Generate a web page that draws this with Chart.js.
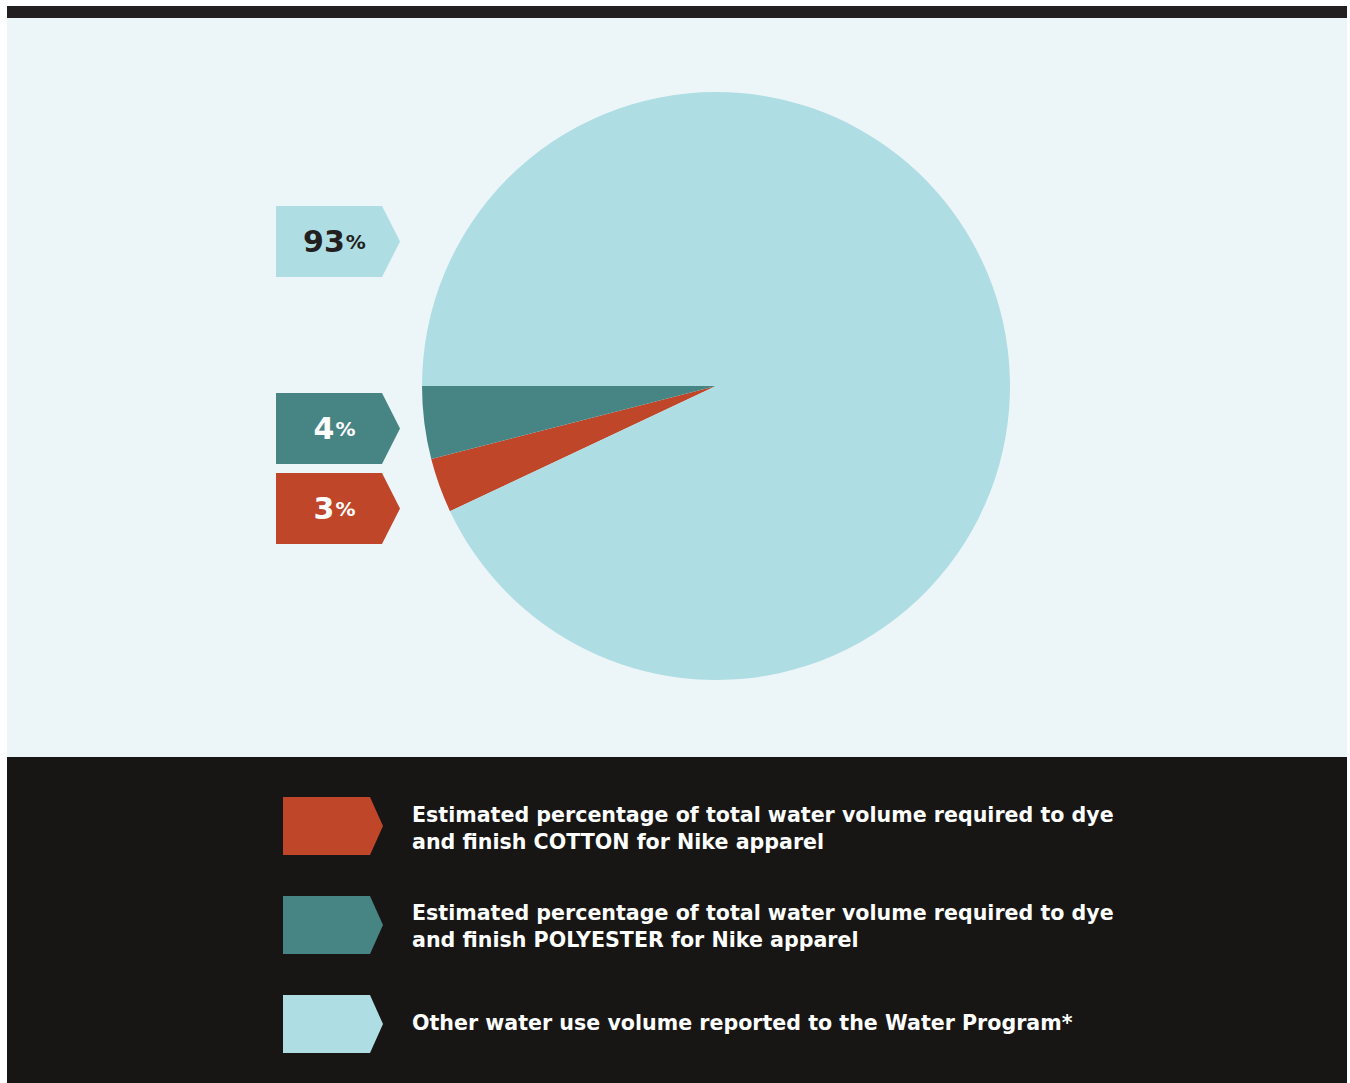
<!DOCTYPE html>
<html>
<head>
<meta charset="utf-8">
<script src="https://cdn.jsdelivr.net/npm/chart.js@4"></script>
<style>
  html, body { margin:0; padding:0; background:#ffffff; width:1350px; height:1083px; overflow:hidden; }
  body { position:relative; font-family: "DejaVu Sans", sans-serif; }
  #topbar { position:absolute; left:7px; top:6px; width:1340px; height:12px; background:#231F20; }
  #panel { position:absolute; left:7px; top:18px; width:1340px; height:739px; background:#ECF5F8; }
  #dark { position:absolute; left:7px; top:757px; width:1340px; height:326px; background:#171614; }
  #chartWrap { position:absolute; left:422px; top:92px; width:588px; height:588px; }
  .tag { position:absolute; left:276px; width:124px; height:71px;
         clip-path: polygon(0 0, 106px 0, 124px 50%, 106px 100%, 0 100%);
         display:flex; align-items:center; justify-content:center; padding-right:7px; box-sizing:border-box;
         font-weight:700; font-size:30px; }
  .tag .pc { font-size:20px; margin-left:1px; }
  .leg { position:absolute; left:283px; width:100px; height:58px;
         clip-path: polygon(0 0, 87px 0, 100px 50%, 87px 100%, 0 100%); }
  .legtxt { position:absolute; left:412px; color:#ffffff; font-weight:700; font-size:20.6px; line-height:27px; white-space:nowrap; }
</style>
</head>
<body>
<div id="topbar"></div>
<div id="panel"></div>
<div id="dark"></div>
<div id="chartWrap"><canvas id="c" width="588" height="588"></canvas></div>
<div id="overlay"></div>
<script>
// ---- data ----
const categories = ["Cotton dye & finish", "Polyester dye & finish", "Other water use"];
const values = [3, 4, 93];
const colors = ["#C0462A", "#478584", "#AEDDE3"];
const tagTextColors = ["#ffffff", "#ffffff", "#231F20"];
const legendLines = [
  ["Estimated percentage of total water volume required to dye", "and finish COTTON for Nike apparel"],
  ["Estimated percentage of total water volume required to dye", "and finish POLYESTER for Nike apparel"],
  ["Other water use volume reported to the Water Program*"]
];
const tagTops = [473, 393, 206];
const legendTops = [797, 896, 995];
const legendTextTops = [802, 900, 1010];

// pie starts at lower edge of the first slice, sweeping clockwise
const startDeg = 180 - (values[0] + values[1]) / 100 * 360; // canvas angle
new Chart(document.getElementById('c'), {
  type: 'pie',
  data: {
    labels: categories,
    datasets: [{ data: values, backgroundColor: colors, borderWidth: 0, hoverOffset: 0 }]
  },
  options: {
    responsive: false,
    animation: false,
    rotation: startDeg + 90,
    layout: { padding: 0 },
    plugins: { legend: { display: false }, tooltip: { enabled: false } },
    events: []
  }
});

const overlay = document.getElementById('overlay');
values.forEach((v, i) => {
  const t = document.createElement('div');
  t.className = 'tag';
  t.style.top = tagTops[i] + 'px';
  t.style.background = colors[i];
  t.style.color = tagTextColors[i];
  t.innerHTML = v + '<span class="pc">%</span>';
  overlay.appendChild(t);

  const l = document.createElement('div');
  l.className = 'leg';
  l.style.top = legendTops[i] + 'px';
  l.style.background = colors[i];
  overlay.appendChild(l);

  const tx = document.createElement('div');
  tx.className = 'legtxt';
  tx.style.top = legendTextTops[i] + 'px';
  tx.innerHTML = legendLines[i].join('<br>');
  overlay.appendChild(tx);
});
</script>
</body>
</html>
